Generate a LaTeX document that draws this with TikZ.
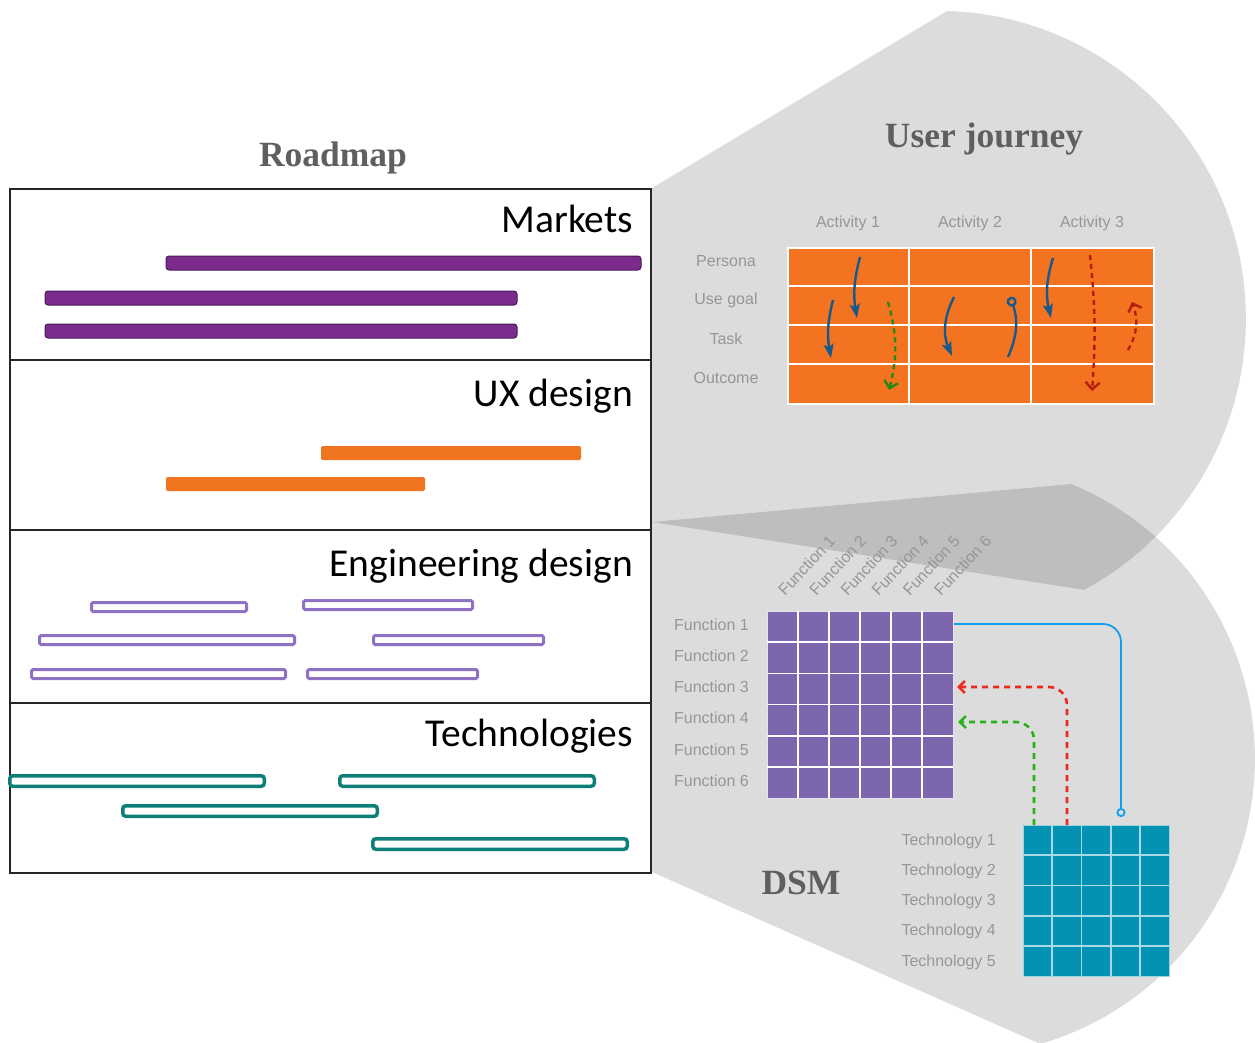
\documentclass[tikz,border=0pt]{standalone}
\usepackage{fontspec}
\setmainfont{Liberation Serif}
\newfontfamily\calib{Carlito}
\newfontfamily\helv{Liberation Sans}
\usetikzlibrary{arrows.meta,positioning}
\definecolor{titlegray}{RGB}{95,95,95}
\definecolor{lblgray}{RGB}{150,150,150}
\definecolor{plum}{RGB}{123,42,142}
\definecolor{carrot}{RGB}{240,116,32}
\definecolor{lavender}{RGB}{143,114,195}
\definecolor{teal}{RGB}{14,126,120}
\definecolor{tangerine}{RGB}{243,115,33}
\definecolor{navy}{RGB}{22,90,140}
\definecolor{leaf}{RGB}{40,135,20}
\definecolor{rust}{RGB}{180,30,10}
\definecolor{violet}{RGB}{124,103,174}
\definecolor{cyan}{RGB}{4,146,180}
\definecolor{sky}{RGB}{16,158,238}
\definecolor{scarlet}{RGB}{238,40,28}
\definecolor{lime}{RGB}{40,178,24}
\tikzset{
  fan/.style={fill=black,fill opacity=0.137},
  title/.style={font=\fontsize{35.5}{40}\selectfont\bfseries,text=titlegray,anchor=base,inner sep=0pt},
  lane/.style={font=\calib\fontsize{39.5}{44}\selectfont,anchor=base east,inner sep=0pt},
  lbl/.style={font=\helv\fontsize{16}{19}\selectfont,text=lblgray,inner sep=0pt},
  mktbar/.style={fill=plum,draw=plum!60!black,line width=1pt,rounded corners=3pt},
  uxbar/.style={fill=carrot,rounded corners=2pt},
  engbar/.style={draw=lavender,fill=white,line width=3pt,rounded corners=1.5pt},
  techbar/.style={draw=teal,fill=white,line width=3.5pt,rounded corners=3pt},
  cell/.style={draw=white,line width=1.5pt},
  jarrow/.style={line width=2.4pt,draw=navy,-{Stealth[length=14pt,width=10pt,inset=3pt]}},
  jdash/.style={line width=2.4pt,draw=#1,dash pattern=on 5pt off 4pt,-{Straight Barb[length=7pt,width=14pt]}},
  link/.style={line width=2.6pt,draw=#1,dash pattern=on 6pt off 5pt,rounded corners=18pt,-{Straight Barb[length=6pt,width=12pt]}},
}
\begin{document}
\begin{tikzpicture}[x=1pt,y=-1pt]
  \useasboundingbox (0,0) rectangle (1255,1043);
  \clip (0,0) rectangle (1255,1043);
  % zoom fans
  \fill[fan] (652,188) -- (947,11) arc[start angle=-88.3,end angle=61.5,radius=308] -- (1085,590) -- (652,522) -- cycle;
  \fill[fan] (652,522) -- (1071,484) arc[start angle=-67.6,end angle=73.9,radius=297] -- (652,872) -- cycle;

  % roadmap
  \node[title] (roadmap) at (333,167) {Roadmap};
  \fill[white] (10,189) rectangle (651,873);
  \draw[black!85,line width=2.5pt] (10,189) rectangle (651,873);
  \foreach \y in {360,530,703} \draw[black!85,line width=2.5pt] (10,\y) -- (651,\y);
  \foreach \t/\y [count=\i] in {Markets/233,UX design/406,Engineering design/576,Technologies/746}
    \node[lane] (lane\i) at (633,\y) {\t};
  \foreach \a/\b/\y in {166/641/263,45/517/298,45/517/331} \draw[mktbar] (\a,\y-7) rectangle (\b,\y+7);
  \foreach \a/\b/\y in {321/581/453,166/425/484} \fill[uxbar] (\a,\y-7) rectangle (\b,\y+7);
  \foreach \a/\b/\y in {90/248/607,302/474/605,38/296/640,372/545/640,30/287/674,306/479/674}
    \draw[engbar] (\a+1.5,\y-4.5) rectangle (\b-1.5,\y+4.5);
  \foreach \a/\b/\y in {8/266/781,338/596/781,121/379/811,371/629/844}
    \draw[techbar] (\a+1.75,\y-5.25) rectangle (\b-1.75,\y+5.25);

  % user journey
  \node[title] (uj) at (984,148) {User journey};
  \node[fill=tangerine,draw=white,line width=1.5pt,minimum width=366pt,minimum height=156pt,anchor=north west,inner sep=0pt] (jt) at (787,247) {};
  \foreach \k in {1,2} \draw[cell] (787+122*\k,247) -- (787+122*\k,403);
  \foreach \k in {1,2,3} \draw[cell] (787,247+39*\k) -- (1153,247+39*\k);
  \foreach \i in {1,2,3} \node[lbl] (act\i) at (787+122*\i-61,223) {Activity \i};
  \foreach \t [count=\i] in {Persona,Use goal,Task,Outcome} \node[lbl] (row\i) at (726,261+39*\i-39) {\t};
  \draw[jarrow] (860,257) to[bend right=12] (857,318);
  \draw[jarrow] (833,300) to[bend right=12] (831,358);
  \draw[jarrow] (954,297) to[bend right=25] (952,356);
  \draw[line width=2.4pt,draw=navy,{Circle[open,length=10pt]}-] (1010,297) to[bend left=22] (1008,357);
  \draw[jarrow] (1053,258) to[bend right=15] (1051,318);
  \draw[jdash=leaf] (888,302) to[bend left=15] (889,390);
  \draw[jdash=rust] (1090,255) to[bend left=5] (1092,391);
  \draw[jdash=rust] (1128,350) to[bend right=25] (1132,302);

  % DSM
  \node[title] (dsm) at (801,894) {DSM};
  \node[fill=violet,draw=white!80!violet,line width=1pt,minimum width=186pt,minimum height=187pt,anchor=north west,inner sep=0pt] (fmat) at (767,611) {};
  \foreach \k in {1,...,5} \draw[cell] (767+31*\k,611) -- (767+31*\k,798) (767,611+31.2*\k) -- (953,611+31.2*\k);
  \foreach \i in {1,...,6} {
    \node[lbl,anchor=east] (f\i) at (749,609+31.2*\i-15.6) {Function \i};
    \node[lbl,rotate=47,anchor=base west] (c\i) at (785+31.2*\i-31.2,597) {Function \i};
  }
  \node[fill=cyan,draw=cyan!40!white,line width=1pt,minimum width=146pt,minimum height=151pt,anchor=north west,inner sep=0pt] (tmat) at (1023,825) {};
  \foreach \k in {1,...,4} \draw[draw=cyan!35!white,line width=1.8pt] (1023+29.2*\k,825) -- (1023+29.2*\k,976) (1023,825+30.2*\k) -- (1169,825+30.2*\k);
  \foreach \i in {1,...,5} \node[lbl,anchor=east] (t\i) at (996,826+30.2*\i-15.1) {Technology \i};

  \coordinate (bfoot) at (1121,817);
  \coordinate (rfoot) at (1067,825);
  \coordinate (gfoot) at (1034,825);
  \draw[line width=1.8pt,draw=sky,rounded corners=18pt,-{Circle[open,length=9pt]}] (fmat.east |- 0,624) -| (bfoot);
  \draw[link=scarlet] (rfoot) |- (957,687);
  \draw[link=lime] (gfoot) |- (958,722);
\end{tikzpicture}
\end{document}
